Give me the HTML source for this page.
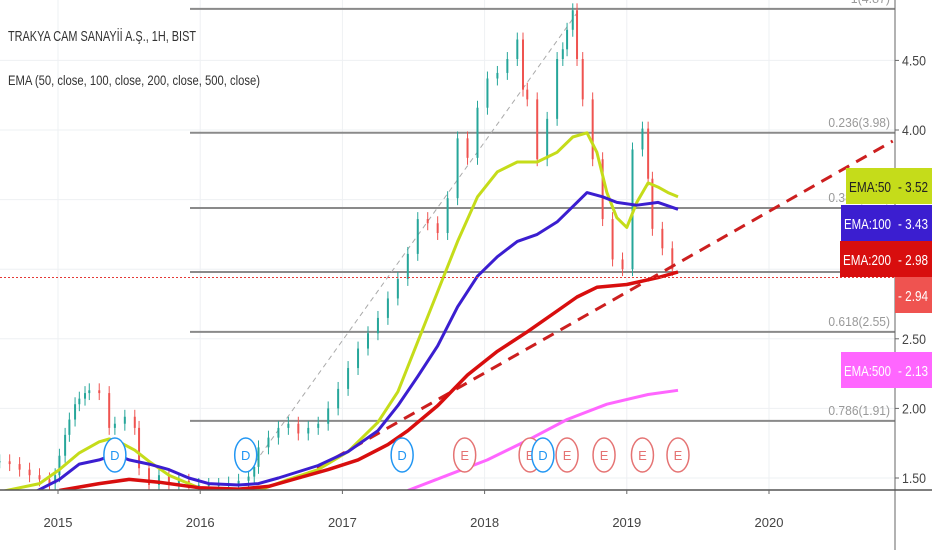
<!DOCTYPE html>
<html><head><meta charset="utf-8"><style>
body{margin:0;background:#fff;font-family:"Liberation Sans",sans-serif}
svg{display:block}
</style></head><body>
<svg id="c" width="932" height="550" xmlns="http://www.w3.org/2000/svg">
<rect width="932" height="550" fill="#fff"/>
<g id="grid"></g>
<g id="fib"></g>
<g id="candles"></g>
<g id="emas"></g>
<g id="events"></g>
<g id="axis"></g>
<text x="8" y="41" font-size="15" fill="#333" textLength="188" lengthAdjust="spacingAndGlyphs">TRAKYA CAM SANAYİİ A.Ş., 1H, BIST</text>
<text x="8" y="85" font-size="14" fill="#333" textLength="252" lengthAdjust="spacingAndGlyphs">EMA (50, close, 100, close, 200, close, 500, close)</text>
</svg>
<script>
const NS="http://www.w3.org/2000/svg";
const candleTimes=[2014.59,2014.66,2014.73,2014.80,2014.87,2014.94,2014.98,2015.01,2015.05,2015.08,2015.12,2015.15,2015.19,2015.22,2015.29,2015.36,2015.40,2015.47,2015.54,2015.57,2015.64,2015.71,2015.78,2015.85,2015.92,2015.99,2016.06,2016.13,2016.20,2016.27,2016.34,2016.38,2016.41,2016.48,2016.55,2016.62,2016.69,2016.76,2016.83,2016.90,2016.97,2017.04,2017.11,2017.18,2017.25,2017.32,2017.39,2017.46,2017.53,2017.60,2017.67,2017.74,2017.81,2017.88,2017.95,2018.02,2018.09,2018.16,2018.23,2018.27,2018.30,2018.37,2018.44,2018.51,2018.55,2018.58,2018.62,2018.65,2018.69,2018.76,2018.83,2018.90,2018.97,2019.04,2019.11,2019.15,2019.18,2019.25,2019.32];
const closes=[1.62,1.60,1.56,1.52,1.49,1.46,1.52,1.66,1.81,1.92,2.03,2.07,2.11,2.13,2.11,1.86,1.89,1.94,1.86,1.57,1.45,1.52,1.45,1.48,1.45,1.45,1.45,1.45,1.46,1.48,1.51,1.58,1.72,1.79,1.86,1.89,1.82,1.86,1.89,2.00,2.14,2.29,2.43,2.54,2.65,2.79,2.93,3.11,3.36,3.33,3.26,3.51,3.94,3.80,4.16,4.37,4.41,4.51,4.65,4.29,4.22,3.79,4.08,4.51,4.58,4.72,4.86,4.51,4.22,3.79,3.36,3.07,3.00,3.86,4.01,3.65,3.29,3.15,3.00];
const ema50T=[2014.59,2014.87,2015.01,2015.15,2015.29,2015.36,2015.43,2015.54,2015.64,2015.78,2015.92,2016.06,2016.27,2016.41,2016.62,2016.83,2017.04,2017.25,2017.39,2017.53,2017.67,2017.81,2017.95,2018.09,2018.23,2018.37,2018.51,2018.62,2018.72,2018.79,2018.86,2018.93,2019.00,2019.07,2019.15,2019.22,2019.29,2019.36];
const ema50V=[1.40,1.46,1.56,1.68,1.76,1.78,1.76,1.70,1.62,1.52,1.46,1.40,1.40,1.41,1.49,1.56,1.69,1.90,2.12,2.48,2.84,3.20,3.52,3.70,3.77,3.77,3.84,3.95,3.98,3.84,3.55,3.37,3.30,3.48,3.62,3.59,3.55,3.52];
const ema100T=[2014.80,2015.01,2015.15,2015.29,2015.40,2015.50,2015.64,2015.78,2015.92,2016.06,2016.27,2016.41,2016.55,2016.83,2017.04,2017.25,2017.39,2017.53,2017.67,2017.81,2017.95,2018.09,2018.23,2018.37,2018.51,2018.62,2018.72,2018.83,2018.93,2019.07,2019.22,2019.36];
const ema100V=[1.38,1.49,1.60,1.63,1.67,1.63,1.60,1.56,1.50,1.46,1.45,1.46,1.50,1.59,1.69,1.84,2.02,2.23,2.45,2.73,2.95,3.09,3.20,3.25,3.34,3.45,3.55,3.52,3.48,3.46,3.48,3.43];
const ema200T=[2015.01,2015.29,2015.50,2015.71,2015.99,2016.27,2016.48,2016.69,2016.90,2017.11,2017.32,2017.46,2017.67,2017.88,2018.09,2018.30,2018.51,2018.65,2018.79,2019.00,2019.22,2019.36];
const ema200V=[1.41,1.46,1.49,1.47,1.43,1.42,1.44,1.50,1.56,1.63,1.74,1.84,2.02,2.24,2.41,2.55,2.70,2.80,2.87,2.89,2.94,2.98];
const ema500T=[2017.46,2017.74,2018.02,2018.30,2018.58,2018.86,2019.15,2019.36];
const ema500V=[1.41,1.52,1.63,1.77,1.92,2.03,2.10,2.13];
const fibLevels=[4.87,3.98,3.44,2.98,2.55,1.91];
const fibNames=["1(4.87)","0.236(3.98)","0.382(3.44)","0.5(2.98)","0.618(2.55)","0.786(1.91)"];
const priceTicks=[1.5,2.0,2.5,3.0,3.5,4.0,4.5];
const priceTickLabels=["1.50","2.00","2.50","","","4.00","4.50"];
const years=[2015,2016,2017,2018,2019,2020];
const eventTimes=[2015.40,2016.32,2017.42,2017.86,2018.32,2018.41,2018.58,2018.84,2019.11,2019.36];
const eventKinds=["D","D","D","E","E","D","E","E","E","E"];
const trendT=[2016.70,2020.87];
const trendV=[1.50,3.92];
const guideT=[2016.35,2018.67];
const guideV=[1.56,4.87];
const emaLabelNames=["EMA:50","EMA:100","EMA:200","EMA:500"];
const emaLabelValues=[3.52,3.43,2.98,2.13];
const lastPrice=2.94;

const X=t=>58+(t-2015)*142.2;
const Y=p=>478-(p-1.5)*139.2;
function el(tag,attrs,parent,txt){const e=document.createElementNS(NS,tag);for(const k in attrs)e.setAttribute(k,attrs[k]);if(txt!==undefined)e.textContent=txt;parent.appendChild(e);return e;}
const g=id=>document.getElementById(id);

years.forEach(y=>{const l=el('line',{x1:X(y),x2:X(y),y1:0,y2:490,stroke:'#eef0f3'},g('grid'));

});
priceTicks.forEach(p=>{const l=el('line',{x1:0,x2:895,y1:Y(p),y2:Y(p),stroke:'#eef0f3'},g('grid'));

});

fibLevels.forEach((p,i)=>{const l=el('line',{x1:190,x2:895,y1:Y(p),y2:Y(p),stroke:'#8a8a8a','stroke-width':2},g('fib'));


const t=el('text',{x:890,y:Y(p)-6,'text-anchor':'end','font-size':13,fill:'#999',textLength:fibNames[i].length*5.6,lengthAdjust:'spacingAndGlyphs'},g('fib'),fibNames[i]);

});

{const l=el('line',{x1:X(guideT[0]),y1:Y(guideV[0]),x2:X(guideT[1]),y2:Y(guideV[1]),stroke:'#aaa','stroke-dasharray':'5,4'},g('fib'));

}

closes.forEach((c,i)=>{const o=i?closes[i-1]:c;const x=X(candleTimes[i]);const up=c>=o;const col=up?'#26a69a':'#ef5350';
const hi=Math.max(o,c)+0.05,lo=Math.min(o,c)-0.05;
const w=el('line',{x1:x,x2:x,y1:Y(hi),y2:Y(lo),stroke:col,'stroke-width':1},g('candles'));


const b=el('rect',{x:x-1,y:Y(Math.max(o,c)),width:2,height:Math.max(1,Math.abs(Y(o)-Y(c))),fill:col},g('candles'));

});

const cp=el('clipPath',{id:'plot'},document.getElementById('c'));el('rect',{x:0,y:0,width:895,height:490},cp);
g('emas').setAttribute('clip-path','url(#plot)');g('candles').setAttribute('clip-path','url(#plot)');

function line(T,V,col,w,name,dash){const d=T.map((t,i)=>(i?'L':'M')+X(t).toFixed(1)+','+Y(V[i]).toFixed(1)).join('');
const p=el('path',{d:d,fill:'none',stroke:col,'stroke-width':w,'stroke-linejoin':'round'},g('emas'));if(dash)p.setAttribute('stroke-dasharray',dash);

}
line(ema500T,ema500V,'#ff66ff',3,'ema-500-line');
line(trendT,trendV,'#cc1f1f',3,'trend-line-dashed','12,8');
line(ema50T,ema50V,'#c5dc1a',3,'ema-50-line');
line(ema100T,ema100V,'#3b1ed0',3,'ema-100-line');
line(ema200T,ema200V,'#d80e0e',3.5,'ema-200-line');
{const l=el('line',{x1:0,x2:895,y1:Y(lastPrice),y2:Y(lastPrice),stroke:'#e53935','stroke-dasharray':'2,2'},g('emas'));

}

eventTimes.forEach((t,i)=>{const isD=eventKinds[i]==='D';const col=isD?'#2196f3':'#e57373';
const gg=el('g',{},g('events'));


el('ellipse',{cx:X(t),cy:455,rx:11,ry:17,fill:'#fff',stroke:col,'stroke-width':1.5},gg);
el('text',{x:X(t),y:460,'text-anchor':'middle','font-size':13,fill:col},gg,eventKinds[i]);});

const ax=g('axis');
{const a=el('line',{x1:895,x2:895,y1:0,y2:550,stroke:'#666'},ax);
const b=el('line',{x1:0,x2:932,y1:490,y2:490,stroke:'#555','stroke-width':1.5},ax);}
priceTicks.forEach((p,i)=>{if(!priceTickLabels[i])return;el('line',{x1:895,x2:899,y1:Y(p),y2:Y(p),stroke:'#666'},ax);
const t=el('text',{x:902,y:Y(p)+5,'font-size':14,fill:'#444',textLength:24,lengthAdjust:'spacingAndGlyphs'},ax,priceTickLabels[i]);

});
years.forEach(y=>{el('line',{x1:X(y),x2:X(y),y1:490,y2:494,stroke:'#666'},ax);
const t=el('text',{x:X(y),y:527,'text-anchor':'middle','font-size':13,fill:'#444'},ax,String(y));

});

const lcols=['#c5dc1a','#3b1ed0','#d80e0e','#ff66ff'],tcols=['#222','#fff','#fff','#fff'];
const ltop=[168,205,241,352];const lx=[846,841,840,841];
emaLabelNames.forEach((n,i)=>{const gg=el('g',{},ax);


const cy=ltop[i]+18;
el('rect',{x:lx[i],y:ltop[i],width:932-lx[i],height:36,fill:lcols[i]},gg);
el('text',{x:lx[i]+3,y:cy+6,'font-size':15,fill:tcols[i],textLength:891-lx[i]-3,lengthAdjust:'spacingAndGlyphs'},gg,n);
el('text',{x:898,y:cy+6,'font-size':15,fill:tcols[i],textLength:30,lengthAdjust:'spacingAndGlyphs'},gg,'- '+emaLabelValues[i].toFixed(2));});
{const gg=el('g',{},ax);
el('rect',{x:895,y:277,width:37,height:36,fill:'#ef5350'},gg);
el('text',{x:898,y:301,'font-size':15,fill:'#fff',textLength:30,lengthAdjust:'spacingAndGlyphs'},gg,'- '+lastPrice.toFixed(2));}
</script>
</body></html>
